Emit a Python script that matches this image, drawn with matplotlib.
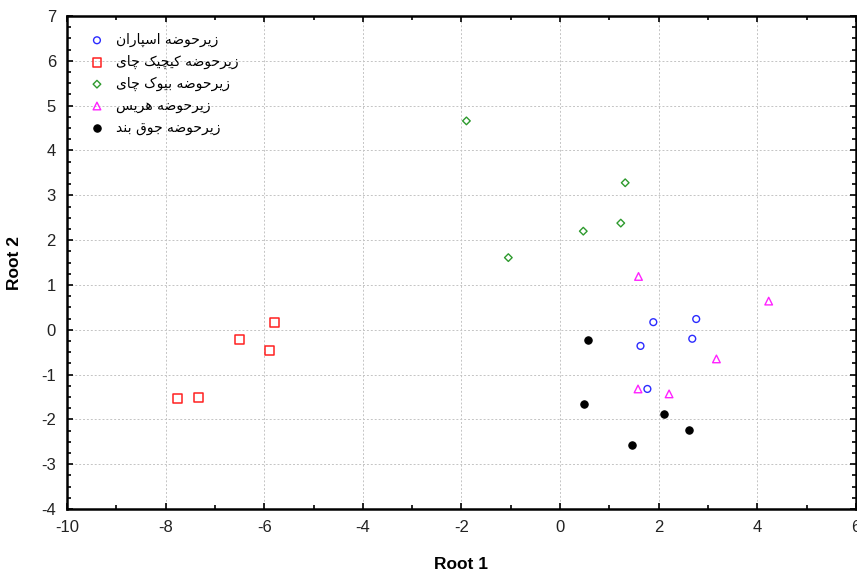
import matplotlib
matplotlib.use('Agg')
import matplotlib.pyplot as plt
from matplotlib.ticker import MultipleLocator

# --- DATA ---
labels = ['زیرحوضه اسپاران', 'زیرحوضه کیچیک چای', 'زیرحوضه بیوک چای',
          'زیرحوضه هریس', 'زیرحوضه جوق بند']

asparan_x = [1.89, 2.76, 2.68, 1.63, 1.77]
asparan_y = [0.17, 0.24, -0.20, -0.36, -1.32]

kichik_x = [-5.79, -6.51, -5.90, -7.76, -7.34]
kichik_y = [0.16, -0.21, -0.46, -1.54, -1.51]

buyuk_x = [-1.90, 1.32, 1.23, 0.47, -1.05]
buyuk_y = [4.66, 3.28, 2.38, 2.20, 1.61]

haris_x = [1.59, 4.23, 3.17, 1.58, 2.21]
haris_y = [1.19, 0.64, -0.65, -1.32, -1.43]

jugh_x = [0.56, 0.49, 2.11, 2.61, 1.46]
jugh_y = [-0.23, -1.65, -1.87, -2.24, -2.58]

# --- minimal Persian shaping (matplotlib draws text left to right, unjoined) ---
FORMS = {  # isolated, final, initial, medial
    'ا': ('\uFE8D', '\uFE8E', None, None),
    'ب': ('\uFE8F', '\uFE90', '\uFE91', '\uFE92'),
    'پ': ('\uFB56', '\uFB57', '\uFB58', '\uFB59'),
    'ت': ('\uFE95', '\uFE96', '\uFE97', '\uFE98'),
    'ج': ('\uFE9D', '\uFE9E', '\uFE9F', '\uFEA0'),
    'چ': ('\uFB7A', '\uFB7B', '\uFB7C', '\uFB7D'),
    'ح': ('\uFEA1', '\uFEA2', '\uFEA3', '\uFEA4'),
    'د': ('\uFEA9', '\uFEAA', None, None),
    'ر': ('\uFEAD', '\uFEAE', None, None),
    'ز': ('\uFEAF', '\uFEB0', None, None),
    'س': ('\uFEB1', '\uFEB2', '\uFEB3', '\uFEB4'),
    'ض': ('\uFEBD', '\uFEBE', '\uFEBF', '\uFEC0'),
    'ق': ('\uFED5', '\uFED6', '\uFED7', '\uFED8'),
    'ک': ('\uFB8E', '\uFB8F', '\uFB90', '\uFB91'),
    'ن': ('\uFEE5', '\uFEE6', '\uFEE7', '\uFEE8'),
    'ه': ('\uFEE9', '\uFEEA', '\uFEEB', '\uFEEC'),
    'و': ('\uFEED', '\uFEEE', None, None),
    'ی': ('\uFBFC', '\uFBFD', '\uFBFE', '\uFBFF'),
}


def shape(text):
    out = []
    for i, ch in enumerate(text):
        if ch not in FORMS:
            out.append(ch)
            continue
        prev = text[i - 1] if i > 0 else ''
        nxt = text[i + 1] if i + 1 < len(text) else ''
        join_prev = prev in FORMS and FORMS[prev][2] is not None
        join_next = nxt in FORMS and FORMS[ch][2] is not None
        iso, fin, ini, med = FORMS[ch]
        if join_prev and join_next:
            out.append(med)
        elif join_prev:
            out.append(fin)
        elif join_next:
            out.append(ini)
        else:
            out.append(iso)
    return ''.join(out)[::-1]


plt.rcParams['font.family'] = ['Liberation Sans', 'DejaVu Sans']
plt.rcParams['axes.unicode_minus'] = False

fig = plt.figure(figsize=(8.57, 5.72), dpi=100)
ax = fig.add_axes([0.0782, 0.110, 0.9206, 0.862])

ax.scatter(asparan_x, asparan_y, marker='o', s=24, facecolors='none',
           edgecolors='#2b2bff', linewidths=1.0, label=shape(labels[0]), zorder=3)
ax.scatter(kichik_x, kichik_y, marker='s', s=40, facecolors='none',
           edgecolors='#ff2020', linewidths=1.1, label=shape(labels[1]), zorder=3)
ax.scatter(buyuk_x, buyuk_y, marker='D', s=15, facecolors='none',
           edgecolors='#2e9a2e', linewidths=1.0, label=shape(labels[2]), zorder=3)
ax.scatter(haris_x, haris_y, marker='^', s=30, facecolors='none',
           edgecolors='#ff22ff', linewidths=1.0, label=shape(labels[3]), zorder=3)
ax.scatter(jugh_x, jugh_y, marker='o', s=28, facecolors='black',
           edgecolors='black', linewidths=0.8, label=shape(labels[4]), zorder=3)

ax.set_xlim(-10, 6)
ax.set_ylim(-4, 7)
ax.xaxis.set_major_locator(MultipleLocator(2))
ax.xaxis.set_minor_locator(MultipleLocator(1))
ax.yaxis.set_major_locator(MultipleLocator(1))
ax.yaxis.set_minor_locator(MultipleLocator(0.25))
ax.tick_params(which='both', direction='in', top=True, right=True,
               labelsize=12, width=1.2, pad=8, labelcolor='#222222')
ax.tick_params(which='major', length=4)
ax.tick_params(which='minor', length=3)
ax.grid(True, which='major', linestyle=(0, (2, 2)), color='#c4c4c4', linewidth=0.7)
ax.set_axisbelow(True)
for sp in ax.spines.values():
    sp.set_linewidth(1.8)

ax.set_xlabel('Root 1', fontsize=12.5, fontweight='bold', labelpad=16)
ax.set_ylabel('Root 2', fontsize=12.5, fontweight='bold', labelpad=14)

leg = ax.legend(loc='upper left', bbox_to_anchor=(0.0177, 0.977), frameon=False,
                prop={'family': ['DejaVu Sans'], 'size': 10},
                handletextpad=0.6, labelspacing=0.55, borderaxespad=0.0,
                handlelength=1.5)

fig.savefig('out.png', dpi=100)
